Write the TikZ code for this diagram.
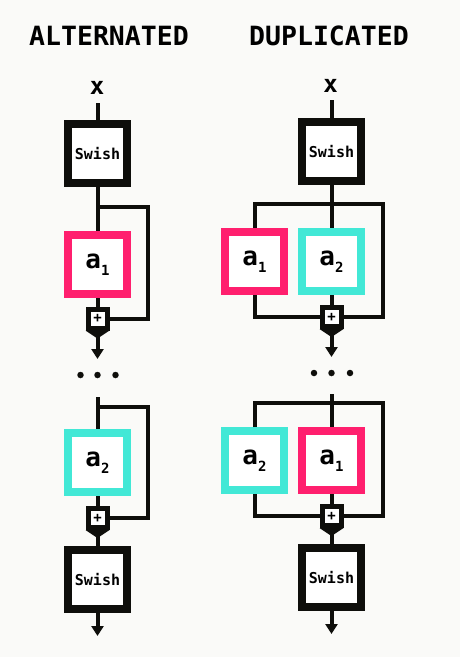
\documentclass[tikz,border=0pt]{standalone}
\usepackage{fontspec}
\usepackage{tikz}
\usetikzlibrary{arrows.meta,positioning,calc}
\setmainfont{DejaVu Sans Mono}
\definecolor{ink}{HTML}{0E0E0B}
\definecolor{hotpink}{HTML}{FF1F6E}
\definecolor{aqua}{HTML}{42E8D6}
\definecolor{paper}{HTML}{FAFAF8}
\tikzset{
    every picture/.style={line join=miter},
    swishbox/.style={draw=ink,fill=white,line width=8pt,minimum size=59pt,
      inner sep=0pt,outer sep=4pt,font=\fontsize{15}{15}\selectfont\bfseries},
    actbox/.style={swishbox,font=\fontsize{26}{26}\selectfont\bfseries},
    pinkbox/.style={actbox,draw=hotpink},
    aquabox/.style={actbox,draw=aqua},
    plusnode/.style={draw=ink,fill=white,line width=5pt,minimum size=19pt,
      inner sep=0pt,outer sep=2.5pt,font=\fontsize{14}{14}\selectfont\bfseries},
    wire/.style={draw=ink,line width=4pt},
    flowarrow/.style={wire,-{Triangle[length=10pt,width=12pt]}},
    dotnode/.style={circle,fill=ink,minimum size=6.5pt,inner sep=0pt},
    headline/.style={font=\fontsize{26.5}{26.5}\selectfont\bfseries,anchor=base},
    inlabel/.style={font=\fontsize{24}{24}\selectfont\bfseries,anchor=base}
}
\newcommand{\actname}[1]{a\raisebox{-7pt}{\fontsize{14}{14}\selectfont#1}}

\begin{document}
\begin{tikzpicture}[x=1pt,y=-1pt]
  \fill[paper] (0,0) rectangle (460,657);
  \useasboundingbox (0,0) rectangle (460,657);
  \node[headline] (ttlL) at (109,45) {ALTERNATED};
  \node[headline] (ttlR) at (329,45) {DUPLICATED};
  % alternated
  \node[inlabel] (xL) at (97,94) {x};
  \node[swishbox] (swL1) at (97.5,153.5) {Swish};
  \node[pinkbox] (a1L) at (97.5,264.5) {\actname1};
  \node[plusnode] (pL1) at (97.5,318.5) {+};
  \foreach \dx [count=\i] in {-17,0,18}{
    \node[dotnode] (dL\i) at ({97.5+\dx},375) {};}
  \node[aquabox] (a2L) at (97.5,462.5) {\actname2};
  \node[plusnode] (pL2) at (97.5,518) {+};
  \node[swishbox] (swL2) at (97.5,579.5) {Swish};
  \coordinate (inL) at (97.5,103);
  \coordinate (brL1) at (97.5,207);
  \coordinate (downL) at (97.5,359);
  \coordinate (topL) at (97.5,397);
  \coordinate (brL2) at (97.5,407);
  \coordinate (outL) at (97.5,636);
  \draw[wire] (inL) -- (swL1.north);
  \draw[wire] (swL1.south) -- (a1L.north);
  \draw[wire] (brL1) -- ++(50,0) |- (pL1.east);
  \draw[wire] (a1L.south) -- (pL1.north);
  \draw[flowarrow] (pL1.south) -- (downL);
  \draw[wire] (topL) -- (a2L.north);
  \draw[wire] (brL2) -- ++(50,0) |- (pL2.east);
  \draw[wire] (a2L.south) -- (pL2.north);
  \draw[wire] (pL2.south) -- (swL2.north);
  \draw[flowarrow] (swL2.south) -- (outL);
  % duplicated
  \node[inlabel] (xR) at (330.5,92) {x};
  \node[swishbox] (swR1) at (331.5,151.5) {Swish};
  \node[pinkbox] (a1R) at (254.5,261.5) {\actname1};
  \node[aquabox] (a2R) at (331.5,261.5) {\actname2};
  \node[plusnode] (pR1) at (331.5,317) {+};
  \foreach \dx [count=\i] in {-17.5,0,18.5}{
    \node[dotnode] (dR\i) at ({331.5+\dx},373) {};}
  \node[aquabox] (b2R) at (254.5,460.5) {\actname2};
  \node[pinkbox] (b1R) at (331.5,460.5) {\actname1};
  \node[plusnode] (pR2) at (331.5,516) {+};
  \node[swishbox] (swR2) at (331.5,577.5) {Swish};
  \coordinate (inR) at (331.5,100);
  \coordinate (brR1) at (331.5,204);
  \coordinate (downR) at (331.5,357);
  \coordinate (topR) at (331.5,394);
  \coordinate (brR2) at (331.5,403);
  \coordinate (outR) at (331.5,634);
  \draw[wire] (inR) -- (swR1.north);
  \draw[wire] (swR1.south) -- (a2R.north);
  \draw[wire] (a1R.north) |- (brR1) -- ++(51,0) |- (pR1.east);
  \draw[wire] (a2R.south) -- (pR1.north);
  \draw[wire] (a1R.south) |- (pR1.west);
  \draw[flowarrow] (pR1.south) -- (downR);
  \draw[wire] (topR) -- (b1R.north);
  \draw[wire] (b2R.north) |- (brR2) -- ++(51,0) |- (pR2.east);
  \draw[wire] (b1R.south) -- (pR2.north);
  \draw[wire] (b2R.south) |- (pR2.west);
  \draw[wire] (pR2.south) -- (swR2.north);
  \draw[flowarrow] (swR2.south) -- (outR);
  % pointed bottoms of the sum nodes
  \foreach \p in {pL1,pL2,pR1,pR2}{
    \fill[ink] ($(\p.south)+(-12,0)$) -- ($(\p.south)+(12,0)$)
      -- ($(\p.south)+(0,8)$) -- cycle;}
\end{tikzpicture}
\end{document}
